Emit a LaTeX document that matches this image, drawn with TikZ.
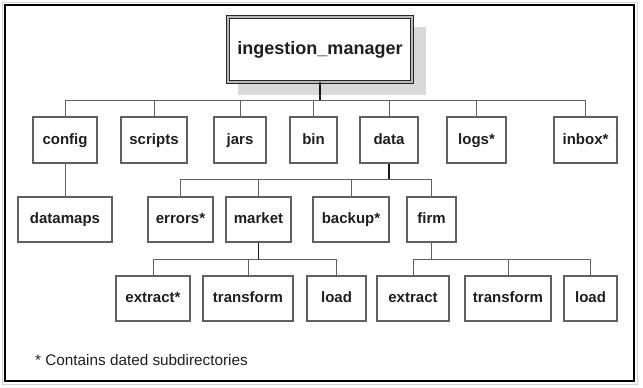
\documentclass[tikz,border=0pt]{standalone}
\usepackage{fontspec}
\setmainfont{Liberation Sans}
\begin{document}
\begin{tikzpicture}[x=1pt,y=-1pt,
  box/.style={draw=black!62, line width=1.2pt, fill=white, inner sep=0pt,
    text=black!88, font=\fontsize{15}{17}\selectfont\bfseries,
    text height=11pt, text depth=3pt},
  lvlA/.style={box, minimum height=46pt},
  lvlB/.style={box, minimum height=45pt},
  conn/.style={draw=black!62, line width=1pt},
  stem/.style={draw=black!90, line width=1.5pt}]
\useasboundingbox (0,0) rectangle (643,388);
% frame
\draw[gray!35, line width=1pt] (2,2) rectangle (637,384);
\draw[black, line width=2.5pt] (5,5) rectangle (634,381);
% root
\fill[gray!30] (238,27) rectangle (426,95);
\node[draw=black!85, double=gray!55, double distance=2pt, line width=0.8pt,
  fill=white, minimum width=184pt, minimum height=65pt, inner sep=0pt,
  text=black!88, font=\fontsize{18}{20}\selectfont\bfseries] (root) at (320,49.5) {ingestion\_manager};
% level 1
\node[lvlA, minimum width=64pt] (config)  at (65,140)    {config};
\node[lvlA, minimum width=66pt] (scripts) at (154,140)   {scripts};
\node[lvlA, minimum width=52pt] (jars)    at (240,140)   {jars};
\node[lvlA, minimum width=47pt] (bin)     at (313.5,140) {bin};
\node[lvlA, minimum width=58pt] (data)    at (389,140)   {data};
\node[lvlA, minimum width=59pt] (logs)    at (476.5,140) {logs*};
\node[lvlA, minimum width=63pt] (inbox)   at (585.5,140) {inbox*};
% level 2
\node[lvlB, minimum width=94pt] (datamaps) at (65,219.5)    {datamaps};
\node[lvlB, minimum width=65pt] (errors)   at (180.5,219.5) {errors*};
\node[lvlB, minimum width=65pt] (market)   at (258.5,219.5) {market};
\node[lvlB, minimum width=76pt] (backup)   at (351,219.5)   {backup*};
\node[lvlB, minimum width=49pt] (firm)     at (431.5,219.5) {firm};
% level 3
\node[lvlB, minimum width=74pt] (extractA)   at (153,298.5)   {extract*};
\node[lvlB, minimum width=90pt] (transformA) at (248,298.5)   {transform};
\node[lvlB, minimum width=59pt] (loadA)      at (336.5,298.5) {load};
\node[lvlB, minimum width=72pt] (extractB)   at (413,298.5)   {extract};
\node[lvlB, minimum width=86pt] (transformB) at (508,298.5)   {transform};
\node[lvlB, minimum width=53pt] (loadB)      at (590.5,298.5) {load};
% buses
\coordinate (bus)  at (320,100);
\coordinate (dbus) at (389,179);
\coordinate (mbus) at (258.5,259);
\coordinate (fbus) at (431.5,259);
% root connectors
\draw[conn] (config.north |- bus) -- (inbox.north |- bus);
\foreach \c in {config,scripts,jars,bin,data,logs,inbox}
  \draw[conn] (\c.north) -- (\c.north |- bus);
\draw[stem] (root.south) -- (bus);
% config
\draw[conn] (config.south) -- (datamaps.north);
% data
\draw[conn] (errors.north |- dbus) -- (firm.north |- dbus);
\foreach \c in {errors,market,backup,firm}
  \draw[conn] (\c.north) -- (\c.north |- dbus);
\draw[stem] (data.south) -- (dbus);
% market
\draw[conn] (extractA.north |- mbus) -- (loadA.north |- mbus);
\foreach \c in {extractA,transformA,loadA}
  \draw[conn] (\c.north) -- (\c.north |- mbus);
\draw[stem] (market.south) -- (mbus);
% firm
\draw[conn] (extractB.north |- fbus) -- (loadB.north |- fbus);
\foreach \c in {extractB,transformB,loadB}
  \draw[conn] (\c.north) -- (\c.north |- fbus);
\draw[conn] (firm.south) -- (fbus);
% footnote
\node[anchor=west, inner sep=0pt, text=black!88, font=\fontsize{15.3}{17}\selectfont] (note) at (35,360) {* Contains dated subdirectories};
\end{tikzpicture}
\end{document}
